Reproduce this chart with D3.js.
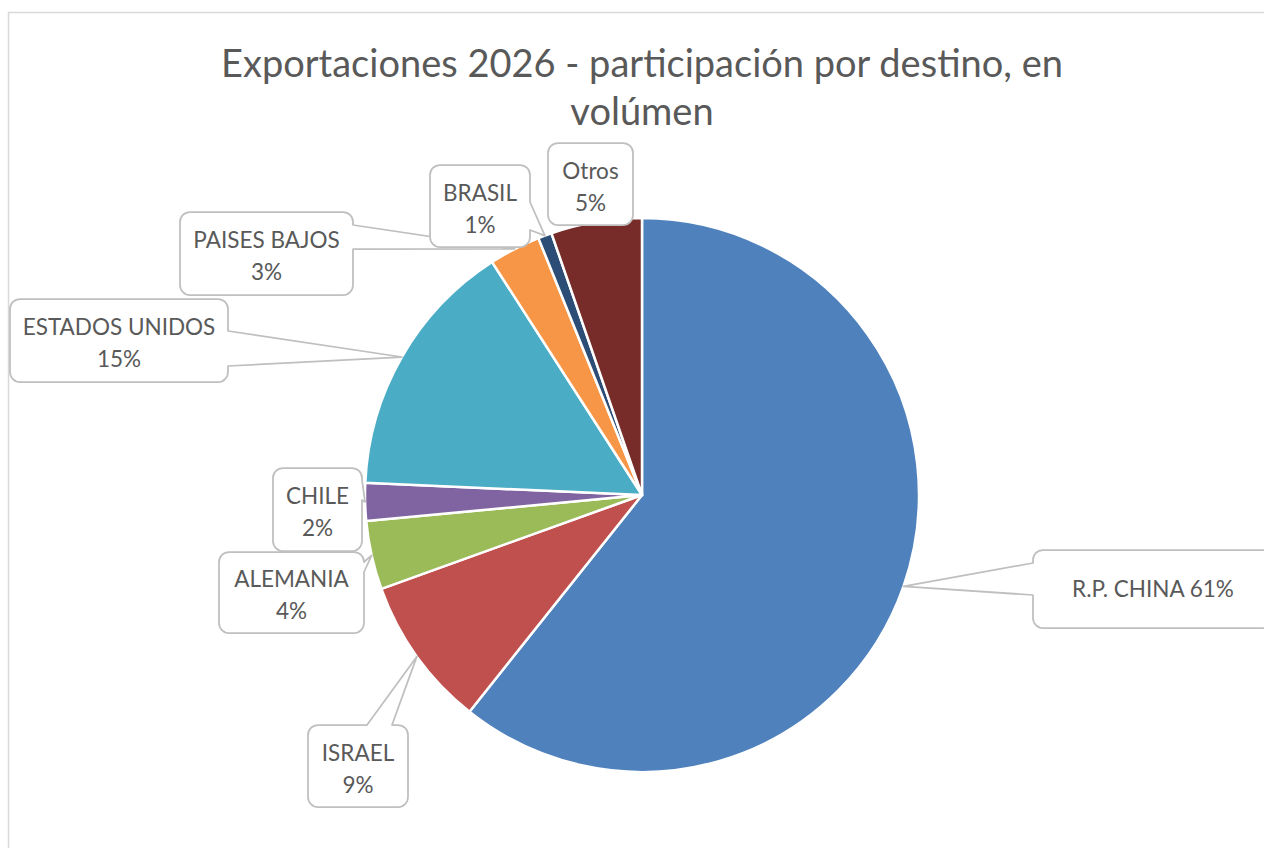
<!DOCTYPE html>
<html>
<head>
<meta charset="utf-8">
<script src="https://cdn.jsdelivr.net/npm/d3@7"></script>
<style>
  html, body { margin: 0; padding: 0; background: #fff; }
  svg { display: block; }
</style>
</head>
<body>
<svg id="chart" width="1264" height="848"></svg>
<script>
// ---- DATA ----
const categories = ["R.P. CHINA", "ISRAEL", "ALEMANIA", "CHILE", "ESTADOS UNIDOS", "PAISES BAJOS", "BRASIL", "Otros"];
const values = [60.7, 8.8, 4.0, 2.2, 15.2, 3.0, 0.8, 5.3];
const colors = ["#4F81BD", "#C0504D", "#9BBB59", "#8064A2", "#4BACC6", "#F79646", "#2C4D75", "#772C2A"];
const titleLines = ["Exportaciones 2026 - participación por destino, en", "volúmen"];

// ---- LAYOUT (callout boxes) ----
const callouts = [
  { x: 1033, y: 550, w: 240, h: 78, side: "left",  b1: 563, b2: 595, oneLine: true },
  { x: 308,  y: 725, w: 100, h: 82, side: "top",   b1: 367, b2: 392 },
  { x: 219,  y: 552, w: 145, h: 81, side: "right", b1: 562, b2: 572 },
  { x: 273,  y: 468, w: 89,  h: 83, side: "right", b1: 480, b2: 500 },
  { x: 10,   y: 299, w: 218, h: 83, side: "right", b1: 331, b2: 366 },
  { x: 180,  y: 212, w: 173, h: 83, side: "right", b1: 225, b2: 249 },
  { x: 430,  y: 165, w: 100, h: 82, side: "right", b1: 202, b2: 230 },
  { x: 548,  y: 143, w: 85,  h: 82, side: "bottom", b1: 580, b2: 600 }
];

const svg = d3.select("#chart");
const cx = 642, cy = 495, R = 277;
const FONT = "Lato, 'Open Sans', sans-serif";

// chart border
svg.append("rect")
  .attr("x", 8.5).attr("y", 12.5)
  .attr("width", 1300).attr("height", 900)
  .attr("fill", "#fff").attr("stroke", "#d9d9d9").attr("stroke-width", 1.5);

// title
const title = svg.append("text")
  .attr("text-anchor", "middle")
  .attr("font-family", FONT)
  .attr("font-size", 38)
  .attr("fill", "#595959");
titleLines.forEach((t, i) => {
  title.append("tspan").attr("x", 642).attr("y", 77 + i * 48).text(t);
});

const data = categories.map((c, i) => ({ name: c, value: values[i], color: colors[i] }));
const total = d3.sum(values);

const pie = d3.pie().value(d => d.value).sort(null);
const arcs = pie(data);
const arc = d3.arc().innerRadius(0).outerRadius(R);
const edgeArc = d3.arc().innerRadius(R).outerRadius(R);

const g = svg.append("g").attr("transform", `translate(${cx},${cy})`);
g.selectAll("path.slice")
  .data(arcs)
  .join("path")
  .attr("class", "slice")
  .attr("d", arc)
  .attr("fill", d => d.data.color)
  .attr("stroke", "#fff")
  .attr("stroke-width", 2.5)
  .attr("stroke-linejoin", "round");

function calloutPath(b, tip, showTip) {
  const { x, y, w, h, side, b1, b2 } = b;
  const r = 10;
  const [tx, ty] = tip;
  let p = `M${x + r},${y}`;
  if (showTip && side === "top") p += `L${b1},${y}L${tx},${ty}L${b2},${y}`;
  p += `L${x + w - r},${y}A${r},${r} 0 0 1 ${x + w},${y + r}`;
  if (showTip && side === "right") p += `L${x + w},${b1}L${tx},${ty}L${x + w},${b2}`;
  p += `L${x + w},${y + h - r}A${r},${r} 0 0 1 ${x + w - r},${y + h}`;
  if (showTip && side === "bottom") p += `L${b2},${y + h}L${tx},${ty}L${b1},${y + h}`;
  p += `L${x + r},${y + h}A${r},${r} 0 0 1 ${x},${y + h - r}`;
  if (showTip && side === "left") p += `L${x},${b2}L${tx},${ty}L${x},${b1}`;
  p += `L${x},${y + r}A${r},${r} 0 0 1 ${x + r},${y}Z`;
  return p;
}

arcs.forEach((a, i) => {
  const b = callouts[i];
  const c = edgeArc.centroid(a);
  const tip = [c[0] + cx, c[1] + cy];
  const inside = tip[0] >= b.x && tip[0] <= b.x + b.w && tip[1] >= b.y && tip[1] <= b.y + b.h;
  svg.append("path")
    .attr("d", calloutPath(b, tip, !inside))
    .attr("fill", "#fff")
    .attr("stroke", "#bfbfbf")
    .attr("stroke-width", 1.75)
    .attr("stroke-linejoin", "round");
  const pct = Math.round(a.data.value / total * 100) + "%";
  const t = svg.append("text")
    .attr("text-anchor", "middle")
    .attr("font-family", FONT)
    .attr("font-size", 22.5)
    .attr("fill", "#595959");
  const mx = b.x + b.w / 2;
  if (b.oneLine) {
    t.append("tspan").attr("x", mx).attr("y", b.y + b.h / 2 + 8).text(a.data.name + " " + pct);
  } else {
    t.append("tspan").attr("x", mx).attr("y", b.y + b.h / 2 - 5.5).text(a.data.name);
    t.append("tspan").attr("x", mx).attr("y", b.y + b.h / 2 + 26.5).text(pct);
  }
});
</script>
</body>
</html>
